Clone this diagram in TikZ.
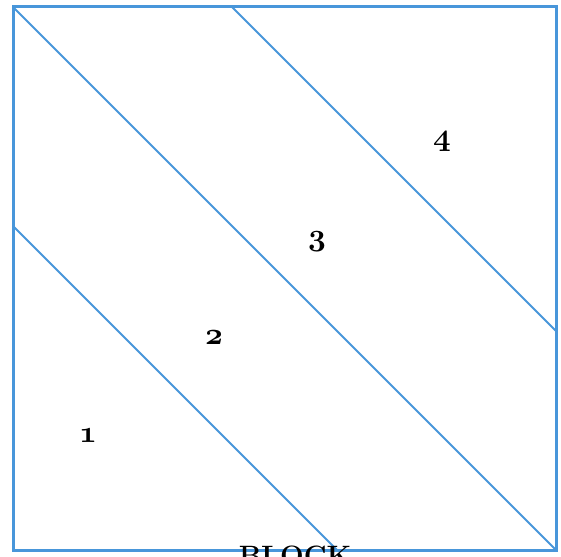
\RequirePackage{fix-cm}
\documentclass[tikz,border=0pt]{standalone}
\usepackage{xcolor}
\usepackage{tikz}
\usetikzlibrary{positioning, calc}

\definecolor{blockblue}{RGB}{72,150,218}
\newcommand{\partnum}[1]{{\fontencoding{OML}\fontfamily{cmm}\fontseries{b}\fontshape{it}\selectfont #1}}

\begin{document}
\begin{tikzpicture}[
  x=1pt, y=-1pt,
  frame/.style={draw=blockblue, line width=3pt},
  cut/.style={draw=blockblue, line width=2pt},
  num/.style={font=\fontsize{31}{33}\selectfont, inner sep=0pt},
  caption/.style={font=\fontsize{28}{30}\selectfont\bfseries, inner sep=0pt, anchor=north},
]
  \useasboundingbox (0,0) rectangle (561,556);

  % corners of the block
  \coordinate (tl) at (13,7);
  \coordinate (tr) at (556,7);
  \coordinate (br) at (556,550);
  \coordinate (bl) at (13,550);

  % where the cuts meet the edges
  \coordinate (left) at (13,226);
  \coordinate (bottom) at (337,550);
  \coordinate (top) at (232,7);
  \coordinate (right) at (556,331);

  \draw[cut] (left) -- (bottom);
  \draw[cut] (tl) -- (br);
  \draw[cut] (top) -- (right);
  \draw[frame] (tl) -- (tr) -- (br) -- (bl) -- cycle;

  \node[num] (p1) at (88,436) {\partnum{1}};
  \node[num] (p2) at (214,338) {\partnum{2}};
  \node[num] (p3) at (317,242) {\partnum{3}};
  \node[num] (p4) at (442,142) {\partnum{4}};

  \node[caption] (block) at (295,546) {BLOCK};
\end{tikzpicture}
\end{document}
